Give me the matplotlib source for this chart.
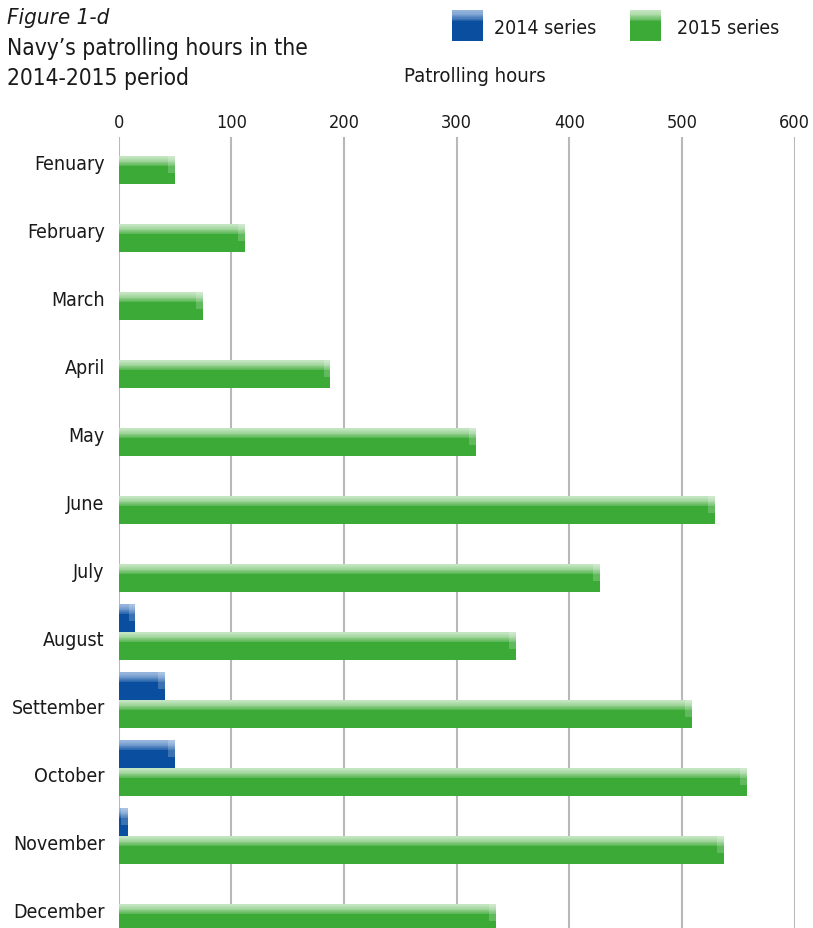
import matplotlib
matplotlib.use("Agg")
import matplotlib.pyplot as plt
from matplotlib.patches import Rectangle
import numpy as np

# ---- data -------------------------------------------------------------
months = ["Fenuary", "February", "March", "April", "May", "June", "July",
          "August", "Settember", "October", "November", "December"]
series_2014 = [0, 0, 0, 0, 0, 0, 0, 15, 41, 50, 8, 0]
series_2015 = [50, 112, 75, 188, 317, 529, 427, 353, 509, 558, 537, 335]
x_ticks = [0, 100, 200, 300, 400, 500, 600]

# ---- style ------------------------------------------------------------
W, H = 813, 929
plt.rcParams["font.family"] = ["DejaVu Sans"]
FONT = dict(family="DejaVu Sans", stretch="condensed")
TXT = "#1a1a1a"

GREEN = "#3caa36"
GREEN_HI = "#c3e4c0"
BLUE = "#0a4f9f"
BLUE_HI = "#94b4dc"
GRID = "#b8b8b8"
BAR_H = 0.41


def blend(c1, c2, t):
    a = np.array(matplotlib.colors.to_rgb(c1))
    b = np.array(matplotlib.colors.to_rgb(c2))
    return tuple(a + (b - a) * t)


def glossy_barh(ax, top, values, base, hi):
    """Horizontal bars with a light glossy band along the top edge."""
    values = np.asarray(values, dtype=float)
    top = np.asarray(top, dtype=float)
    ax.barh(top, values, height=BAR_H, align="edge", color=base, zorder=3)
    # vertical gradient over the upper part of the bar
    steps = 14
    band = 0.40
    for k in range(steps):
        t = k / (steps - 1)
        col = blend(hi, base, t ** 1.6)
        ax.barh(top + BAR_H * band * k / steps, values,
                height=BAR_H * band / steps + 0.002, align="edge",
                color=col, linewidth=0, zorder=4)
    # soft highlight at the right end of each bar
    cap = np.minimum(values, 6.0)
    ax.barh(top, cap, left=values - cap, height=BAR_H * 0.62,
            align="edge", color="white", alpha=0.2, linewidth=0, zorder=5)


fig = plt.figure(figsize=(W / 100, H / 100), dpi=100)
ax_left, ax_right, ax_top = 118.6, 794.5, 138
ax = fig.add_axes([ax_left / W, 0, (ax_right - ax_left) / W, (H - ax_top) / H])

pos = np.arange(len(months))
glossy_barh(ax, pos, series_2015, GREEN, GREEN_HI)
glossy_barh(ax, pos - BAR_H, series_2014, BLUE, BLUE_HI)

ax.set_xlim(0, 600)
ax.set_ylim(11 + 24 / 68, -19 / 68)

ax.xaxis.tick_top()
ax.set_xticks(x_ticks)
ax.set_xticklabels([str(v) for v in x_ticks], fontsize=13, color=TXT, **FONT)
ax.set_yticks(pos + 0.08)
ax.set_yticklabels(months, fontsize=14, color=TXT, **FONT)
ax.tick_params(axis="both", length=0)
ax.tick_params(axis="x", pad=4)
ax.tick_params(axis="y", pad=10)
for s in ax.spines.values():
    s.set_visible(False)
ax.grid(axis="x", color=GRID, linewidth=1.5, zorder=0)
ax.grid(axis="y", visible=False)
ax.set_axisbelow(True)

# ---- titles -----------------------------------------------------------
fig.text(7 / W, 1 - 18 / H, "Figure 1-d", fontsize=16, style="italic",
         color=TXT, va="center", ha="left", **FONT)
fig.text(7 / W, 1 - 48 / H, "Navy\u2019s patrolling hours in the", fontsize=16.3,
         color=TXT, va="center", ha="left", **FONT)
fig.text(7 / W, 1 - 78 / H, "2014-2015 period", fontsize=16.3,
         color=TXT, va="center", ha="left", **FONT)
fig.text(404 / W, 1 - 77 / H, "Patrolling hours", fontsize=14.6,
         color=TXT, va="center", ha="left", **FONT)

# ---- legend -----------------------------------------------------------
def legend_square(x, y, base, hi):
    size = 31
    fig.add_artist(Rectangle((x / W, 1 - (y + size) / H), size / W, size / H,
                             transform=fig.transFigure, color=base, lw=0))
    steps = 10
    for k in range(steps):
        t = k / (steps - 1)
        col = blend(hi, base, t ** 1.6)
        hh = size * 0.40 / steps
        fig.add_artist(Rectangle((x / W, 1 - (y + (k + 1) * hh) / H), size / W,
                                 hh / H, transform=fig.transFigure,
                                 color=col, lw=0))


legend_square(452, 11, BLUE, BLUE_HI)
fig.text(494 / W, 1 - 29 / H, "2014 series", fontsize=14, color=TXT,
         va="center", ha="left", **FONT)
legend_square(630, 11, GREEN, GREEN_HI)
fig.text(677 / W, 1 - 29 / H, "2015 series", fontsize=14, color=TXT,
         va="center", ha="left", **FONT)

fig.savefig("out.png", dpi=100)
